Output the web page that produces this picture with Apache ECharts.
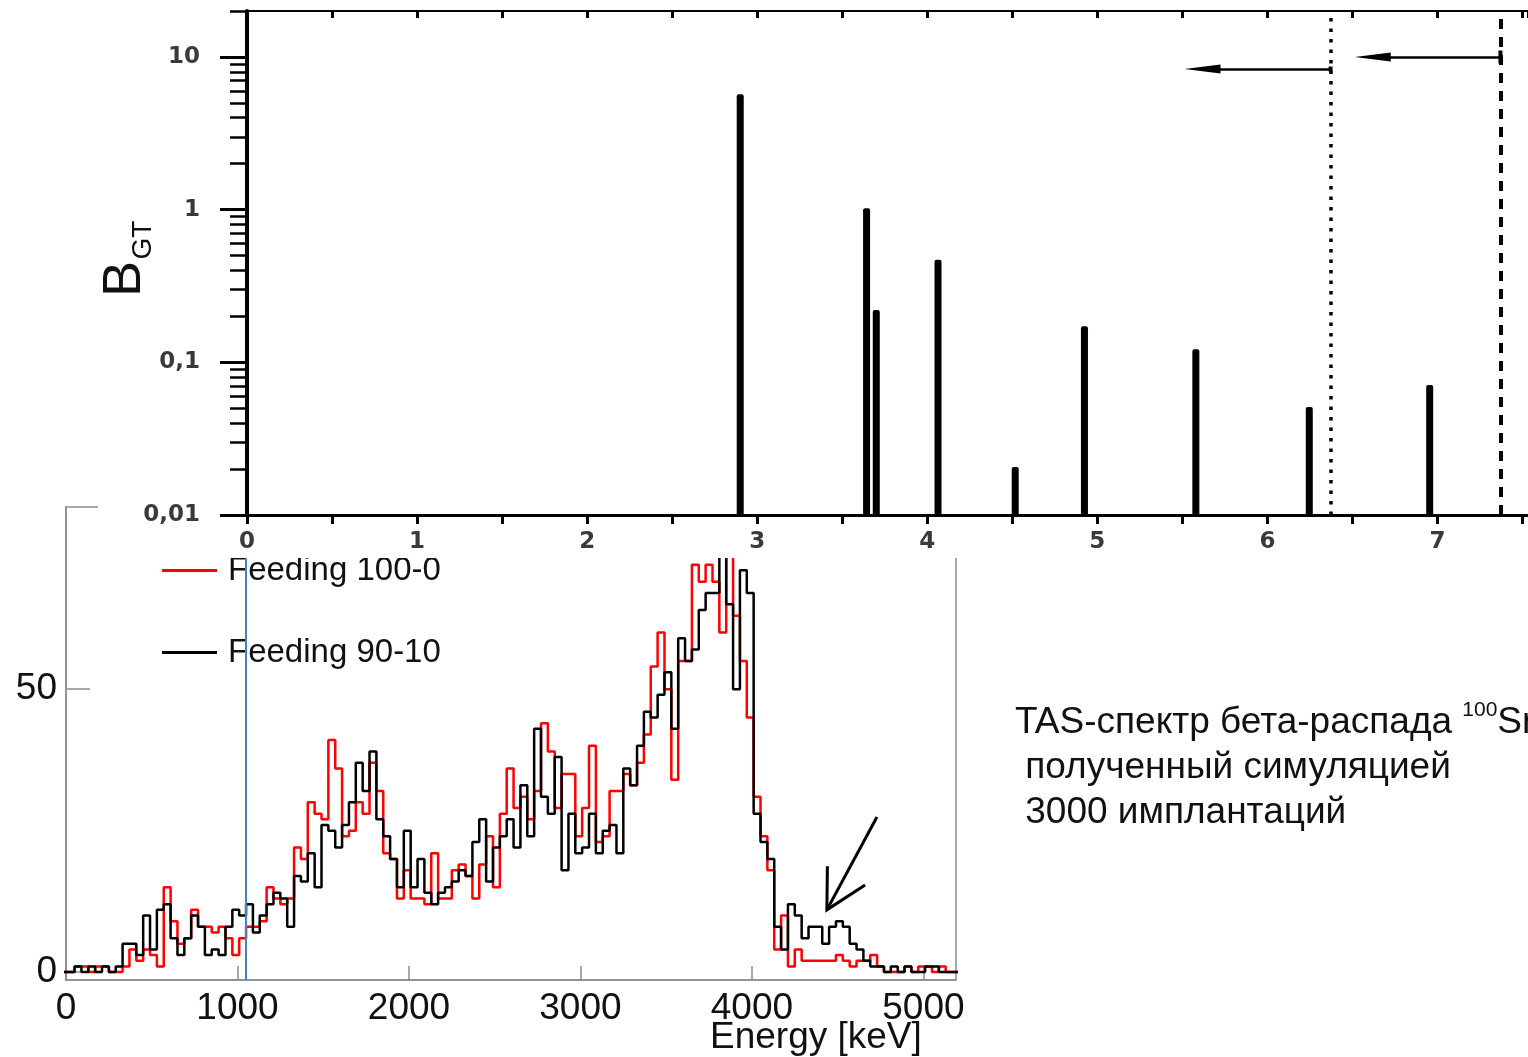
<!DOCTYPE html>
<html><head><meta charset="utf-8">
<script src="https://cdn.jsdelivr.net/npm/echarts@6/dist/echarts.min.js"></script>
<style>
html,body{margin:0;padding:0;background:#fff;}
#wrap{position:relative;width:1528px;height:1057px;overflow:hidden;background:#fff;}
#spec{position:absolute;left:0;top:0;width:1528px;height:1057px;}
#bgt{position:absolute;left:98px;top:0;width:1430px;height:558px;background:#fff;}
</style></head><body>
<div id="wrap"><div id="spec"></div><div id="bgt"></div></div>
<script>
// ================= Lower chart: TAS spectrum (counts per 40 keV bin) =================
const binStart = -30;   // keV, left edge of first bin
const binWidth = 40;    // keV
const feeding100_0 = [
  0,0,1,1,0,1,1,0,0,1,
  4,2,4,3,1,15,9,5,6,11,
  8,8,7,8,6,3,6,8,8,9,
  15,13,12,13,22,20,30,28,27,41,
  36,24,25,30,28,37,32,21,20,13,
  18,13,13,12,21,13,13,18,19,17,
  13,19,24,15,28,36,29,31,27,32,
  44,39,29,35,35,24,29,40,23,24,
  32,32,35,33,37,42,54,60,50,34,
  55,55,72,69,72,69,60,76,63,55,
  45,31,24,18,4,10,1,4,2,2,
  2,2,2,3,2,1,2,2,3,1,
  0,0,0,1,0,1,1,0,1,0,0
];
const feeding90_10 = [
  0,0,1,0,1,0,1,0,1,5,
  5,3,10,4,11,12,6,3,6,10,
  8,3,4,3,8,11,10,12,7,10,
  12,14,13,8,17,16,21,15,26,25,
  22,26,30,37,32,39,27,24,20,15,
  25,15,20,14,12,14,15,16,18,17,
  23,27,16,22,24,27,22,33,24,43,
  31,28,38,18,28,21,22,28,21,25,
  26,21,36,33,40,46,45,49,53,43,
  59,55,57,64,67,67,76,65,50,71,
  67,28,23,20,8,4,12,10,6,8,
  8,5,8,9,8,5,4,2,1,1,
  0,1,0,1,0,0,1,1,0,0,0
];
const seriesNames = ['Feeding 100-0', 'Feeding 90-10'];
const energyTicks = [0, 1000, 2000, 3000, 4000, 5000];
const countTicks = [0, 50];
const blueMarkerEnergy = 1047;
// annotation arrow (keV, counts)
const arrowShaft = [[4729, 27.4], [4437, 11.0]];
const arrowBarbs = [[4440, 18.7], [4437, 11.0], [4660, 15.4]];

// ================= Upper chart: B_GT vs level energy (MeV) =================
const levelEnergy = [2.90, 3.643, 3.70, 4.063, 4.517, 4.924, 5.579, 6.246, 6.954];
const bgtValues   = [5.7, 1.02, 0.22, 0.47, 0.0206, 0.172, 0.122, 0.051, 0.071];
const bgtTickLabels = {'0.01': '0,01', '0.1': '0,1', '1': '1', '10': '10'};
const dottedLimit = 6.371;
const dashedLimit = 7.370;
const arrowDotted = [[6.371, 8.34], [5.618, 8.34]];
const arrowDashed = [[7.370, 10.0], [6.619, 10.0]];

function stepData(counts) {
  const d = counts.map((c, i) => [binStart + i * binWidth, c]);
  d.push([binStart + counts.length * binWidth, counts[counts.length - 1]]);
  return d;
}

const FONT = 'Liberation Sans, Arial, sans-serif';
const GRAY = '#8c8c8c';

// ---------------- lower chart ----------------
const spec = echarts.init(document.getElementById('spec'), null, {renderer: 'canvas'});
spec.setOption({
  animation: false,
  backgroundColor: '#fff',
  grid: {left: 66, top: 507, width: 890, height: 473, show: true, borderColor: GRAY, borderWidth: 1.5},
  legend: {
    orient: 'vertical', left: 157, top: 549, itemGap: 49, itemWidth: 55, itemHeight: 3,
    icon: 'rect', selectedMode: false,
    data: seriesNames,
    textStyle: {fontSize: 33, fontFamily: FONT, color: '#111', padding: [0, 0, 0, 6]}
  },
  xAxis: {
    type: 'value', min: 0, max: 5190,
    axisLine: {onZero: false, lineStyle: {color: GRAY, width: 1.5}},
    axisTick: {inside: true, length: 14, customValues: energyTicks, lineStyle: {color: GRAY, width: 1.5}},
    axisLabel: {customValues: energyTicks, formatter: v => String(v), margin: 10, fontSize: 37, fontFamily: FONT, color: '#111'},
    splitLine: {show: false}
  },
  yAxis: {
    type: 'value', min: -1.4, max: 82.2,
    axisLine: {onZero: false, lineStyle: {color: GRAY, width: 1.5}},
    axisTick: {inside: true, length: 24, customValues: countTicks, lineStyle: {color: GRAY, width: 1.5}},
    axisLabel: {customValues: countTicks, formatter: v => String(v), margin: 9, fontSize: 37, fontFamily: FONT, color: '#111'},
    splitLine: {show: false}
  },
  series: [
    {
      name: seriesNames[0], type: 'line', step: 'end', symbol: 'none', showSymbol: false,
      data: stepData(feeding100_0),
      lineStyle: {color: '#ff0000', width: 2.5}, itemStyle: {color: '#ff0000'}, z: 2,
      markLine: {
        silent: true, symbol: ['none', 'none'], label: {show: false},
        lineStyle: {color: '#4a7fc1', width: 2, type: 'solid'},
        data: [{xAxis: blueMarkerEnergy}]
      }
    },
    {
      name: seriesNames[1], type: 'line', step: 'end', symbol: 'none', showSymbol: false,
      data: stepData(feeding90_10),
      lineStyle: {color: '#000', width: 2.5}, itemStyle: {color: '#000'}, z: 3
    }
  ]
});
const toPx = p => spec.convertToPixel({gridIndex: 0}, p);
spec.setOption({
  graphic: [
    {type: 'text', id: 'xname', x: 710, y: 1038,
     style: {text: 'Energy [keV]', fontSize: 37, fontFamily: FONT, fill: '#111', align: 'left', verticalAlign: 'middle'}},
    {type: 'text', id: 'note', x: 1015, y: 700,
     style: {
       text: '{m|TAS-спектр бета-распада }{s|100}{m|Sn,}\n{m| полученный симуляцией}\n{m| 3000 имплантаций}',
       align: 'left', verticalAlign: 'top',
       rich: {
         m: {fontSize: 37, fontFamily: FONT, lineHeight: 45, fill: '#111'},
         s: {fontSize: 21, fontFamily: FONT, lineHeight: 30, verticalAlign: 'top', fill: '#111'}
       }
     }},
    {type: 'polyline', id: 'ash', shape: {points: arrowShaft.map(toPx)}, style: {stroke: '#000', lineWidth: 3, fill: null}, z: 100},
    {type: 'polyline', id: 'abarb', shape: {points: arrowBarbs.map(toPx)}, style: {stroke: '#000', lineWidth: 3, fill: null}, z: 100}
  ]
});

// ---------------- upper chart ----------------
const bgt = echarts.init(document.getElementById('bgt'), null, {renderer: 'canvas'});
const minorLog = [];
[-2, -1, 0].forEach(n => { for (let k = 2; k <= 9; k++) minorLog.push(Math.log10(k) + n); });
minorLog.push(Math.log10(20));
const logMax = Math.log10(20);
const AX = '#000';
const TICKFONT = 'DejaVu Sans, sans-serif';
const levelMax = 7.532;
bgt.setOption({
  animation: false,
  backgroundColor: '#fff',
  grid: {left: 149, top: 11, width: 1281, height: 504},
  xAxis: [
    {
      type: 'value', position: 'bottom', min: 0, max: levelMax, interval: 0.5,
      axisLine: {onZero: false, lineStyle: {color: AX, width: 3}},
      axisTick: {length: 9, lineStyle: {color: AX, width: 3}},
      axisLabel: {formatter: v => Number.isInteger(v) ? String(v) : '', margin: 16, fontSize: 23, fontWeight: 'bold',
                  fontFamily: TICKFONT, color: '#3a3a3a', showMaxLabel: false},
      splitLine: {show: false}
    },
    {
      type: 'value', position: 'top', min: 0, max: levelMax, interval: 0.5,
      axisLine: {onZero: false, lineStyle: {color: AX, width: 2}},
      axisTick: {inside: true, length: 7, lineStyle: {color: AX, width: 3}},
      axisLabel: {show: false}, splitLine: {show: false}
    }
  ],
  yAxis: [
    {
      type: 'log', logBase: 10, min: 0.01, max: 20, position: 'left',
      axisLine: {onZero: false, lineStyle: {color: AX, width: 4}},
      axisTick: {show: false},
      axisLabel: {formatter: v => (bgtTickLabels[String(v)] !== undefined ? bgtTickLabels[String(v)] : ''),
                  margin: 47, fontSize: 23, fontWeight: 'bold', fontFamily: TICKFONT, color: '#3a3a3a'},
      splitLine: {show: false}, minorTick: {show: false}
    },
    {
      type: 'value', min: -2, max: logMax, position: 'left',
      axisLine: {show: false},
      axisTick: {show: true, length: 27, customValues: [-2, -1, 0, 1], lineStyle: {color: AX, width: 3}},
      axisLabel: {show: false}, splitLine: {show: false}
    },
    {
      type: 'value', min: -2, max: logMax, position: 'left',
      axisLine: {show: false},
      axisTick: {show: true, length: 17, customValues: minorLog, lineStyle: {color: AX, width: 2.5}},
      axisLabel: {show: false}, splitLine: {show: false}
    }
  ],
  graphic: [
    {type: 'text', x: 27, y: 279, rotation: Math.PI / 2,
     style: {text: 'B', fontSize: 54, fontFamily: FONT, fill: '#111', align: 'center', verticalAlign: 'middle'}},
    {type: 'text', x: 45, y: 240, rotation: Math.PI / 2,
     style: {text: 'GT', fontSize: 28, fontFamily: FONT, fill: '#111', align: 'center', verticalAlign: 'middle'}}
  ],
  series: [
    {
      type: 'custom', xAxisIndex: 0, yAxisIndex: 0,
      data: levelEnergy.map((e, i) => [e, bgtValues[i]]),
      encode: {x: 0, y: 1},
      renderItem: (params, api) => {
        const x = api.value(0), v = api.value(1);
        const top = api.coord([x, v]);
        const base = api.coord([x, 0.01]);
        const w = 7;
        return {type: 'rect', shape: {x: top[0] - w / 2, y: top[1], width: w, height: base[1] - top[1], r: [2, 2, 0, 0]},
                style: {fill: '#000'}};
      }
    },
    {
      type: 'line', xAxisIndex: 0, yAxisIndex: 0, data: [], symbol: 'none',
      markLine: {
        silent: true, animation: false, label: {show: false}, symbol: ['none', 'none'],
        data: [
          {xAxis: dottedLimit, lineStyle: {color: '#000', width: 3.5, type: [3.5, 7]}},
          {xAxis: dashedLimit, lineStyle: {color: '#000', width: 4, type: [10, 8]}},
          [{coord: arrowDotted[0], symbol: 'rect', symbolSize: [5, 4], lineStyle: {color: '#000', width: 2.5, type: 'solid'}},
           {coord: arrowDotted[1], symbol: 'triangle', symbolSize: [9, 36]}],
          [{coord: arrowDashed[0], symbol: 'rect', symbolSize: [13, 4], lineStyle: {color: '#000', width: 2.5, type: 'solid'}},
           {coord: arrowDashed[1], symbol: 'triangle', symbolSize: [9, 36]}]
        ]
      }
    }
  ]
});
</script>
</body></html>
